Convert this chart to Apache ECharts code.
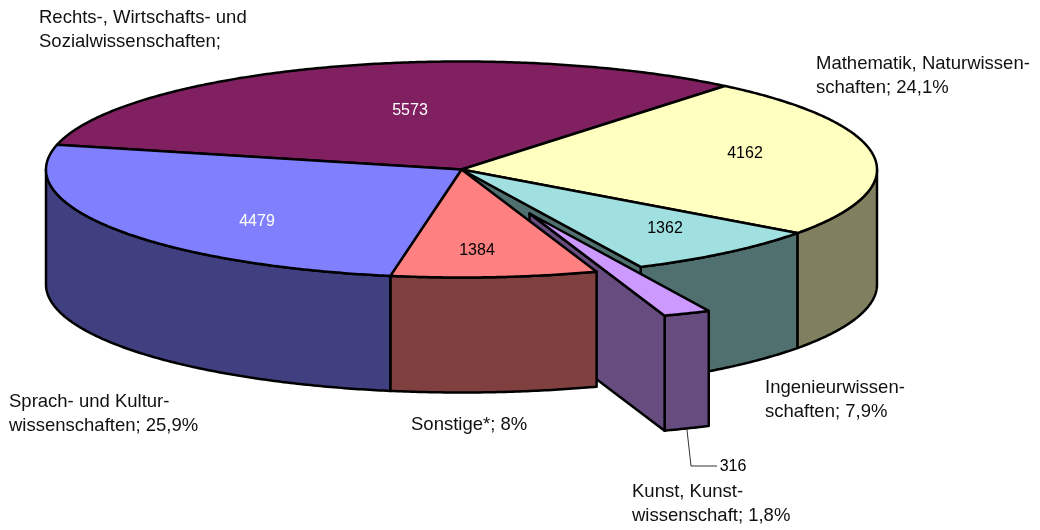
<!DOCTYPE html>
<html>
<head>
<meta charset="utf-8">
<style>html,body{margin:0;background:#fff}#chart{width:1040px;height:530px}</style>
<script src="https://cdn.jsdelivr.net/npm/echarts@6/dist/echarts.min.js"></script>
</head>
<body>
<div id="chart"></div>
<script>
const categories = [
  'Rechts-, Wirtschafts- und\nSozialwissenschaften;',
  'Mathematik, Naturwissen-\nschaften; 24,1%',
  'Ingenieurwissen-\nschaften; 7,9%',
  'Kunst, Kunst-\nwissenschaft; 1,8%',
  'Sonstige*; 8%',
  'Sprach- und Kultur-\nwissenschaften; 25,9%'
];
const values = [5573, 4162, 1362, 316, 1384, 4479];
const topColors = ['#802060', '#FFFFC0', '#A0E0E0', '#CC99FF', '#FF8080', '#8080FF'];
const wallColors = ['#401030', '#808060', '#507070', '#664C7F', '#804040', '#404080'];
const valueColors = ['#fff', '#000', '#000', '#000', '#000', '#fff'];
const explodedIndex = 3;

// pie geometry
const cx = 461.5, cy = 169.5, rx = 415.5, ry = 108, depth = 115;
const startDeg = -76.8;
const explodeDx = 68, explodeDy = 44;

// where the texts sit, same order as categories
const namePos = [[39, 6], [816, 52], [765, 376], [632, 480], [411, 413], [9, 390]];
const valuePos = [[410, 111], [745, 154], [665, 229], [733, 467], [477, 251], [257, 222]];

const total = values.reduce((a, b) => a + b, 0);
const angles = [];
values.reduce((acc, v) => {
  const next = acc + v / total * 360;
  angles.push([acc, next]);
  return next;
}, startDeg);

const edge = { stroke: '#000', lineWidth: 2.5, lineJoin: 'round' };
const textFont = { fontFamily: 'Liberation Sans', fontSize: 18.5, fill: '#111', lineHeight: 24 };

function rim(deg, ox, oy) {
  const a = deg * Math.PI / 180;
  return [cx + ox + rx * Math.sin(a), cy + oy - ry * Math.cos(a)];
}

function arc(from, to, ox, oy) {
  const pts = [];
  const steps = Math.max(2, Math.ceil((to - from) * 2));
  for (let i = 0; i <= steps; i++) {
    pts.push(rim(from + (to - from) * i / steps, ox, oy));
  }
  return pts;
}

function poly(points, fill, z2) {
  return { type: 'polygon', shape: { points }, style: Object.assign({ fill }, edge), z2, silent: true };
}

function renderSlice(params, api) {
  const i = api.value(0);
  const exploded = i === explodedIndex;
  const ox = exploded ? explodeDx : 0;
  const oy = exploded ? explodeDy : 0;
  const [from, to] = angles[i];
  const wallZ = exploded ? 2 : (i < explodedIndex ? 1 : 3);
  const topZ = exploded ? 2 : 3;
  const children = [];

  // side face facing the viewer goes first, only the front half of the rim shows
  const wFrom = Math.max(from, 90), wTo = Math.min(to, 270);
  if (wFrom < wTo) {
    const top = arc(wFrom, wTo, ox, oy);
    const bottom = top.map(p => [p[0], p[1] + depth]).reverse();
    children.push(poly(top.concat(bottom), wallColors[i], wallZ));
  }
  // cut face, seen on the exploded slice and on the slice in behind the gap
  if (exploded || i === explodedIndex - 1) {
    const c = [cx + ox, cy + oy];
    const r = rim(to, ox, oy);
    children.push(poly([c, r, [r[0], r[1] + depth], [c[0], c[1] + depth]], wallColors[i], wallZ));
  }
  children.push(poly([[cx + ox, cy + oy]].concat(arc(from, to, ox, oy)), topColors[i], topZ));

  children.push({
    type: 'text', z2: 5, silent: true,
    style: Object.assign({}, textFont, { text: categories[i], x: namePos[i][0], y: namePos[i][1] })
  });
  children.push({
    type: 'text', z2: 5, silent: true,
    style: Object.assign({}, textFont, {
      text: String(values[i]), x: valuePos[i][0], y: valuePos[i][1],
      fill: valueColors[i], fontSize: 16, align: 'center', verticalAlign: 'middle'
    })
  });
  if (exploded) {
    // leader line to the 316 label
    children.push({
      type: 'polyline', z2: 1, silent: true,
      shape: { points: [[687, 430], [691, 466], [717, 466]] },
      style: { stroke: '#333', lineWidth: 1, fill: null }
    });
  }
  return { type: 'group', children };
}

const chart = echarts.init(document.getElementById('chart'));
chart.setOption({
  animation: false,
  backgroundColor: '#fff',
  series: [{
    type: 'custom',
    coordinateSystem: 'none',
    renderItem: renderSlice,
    data: values.map((v, i) => [i, v])
  }]
});
</script>
</body>
</html>
